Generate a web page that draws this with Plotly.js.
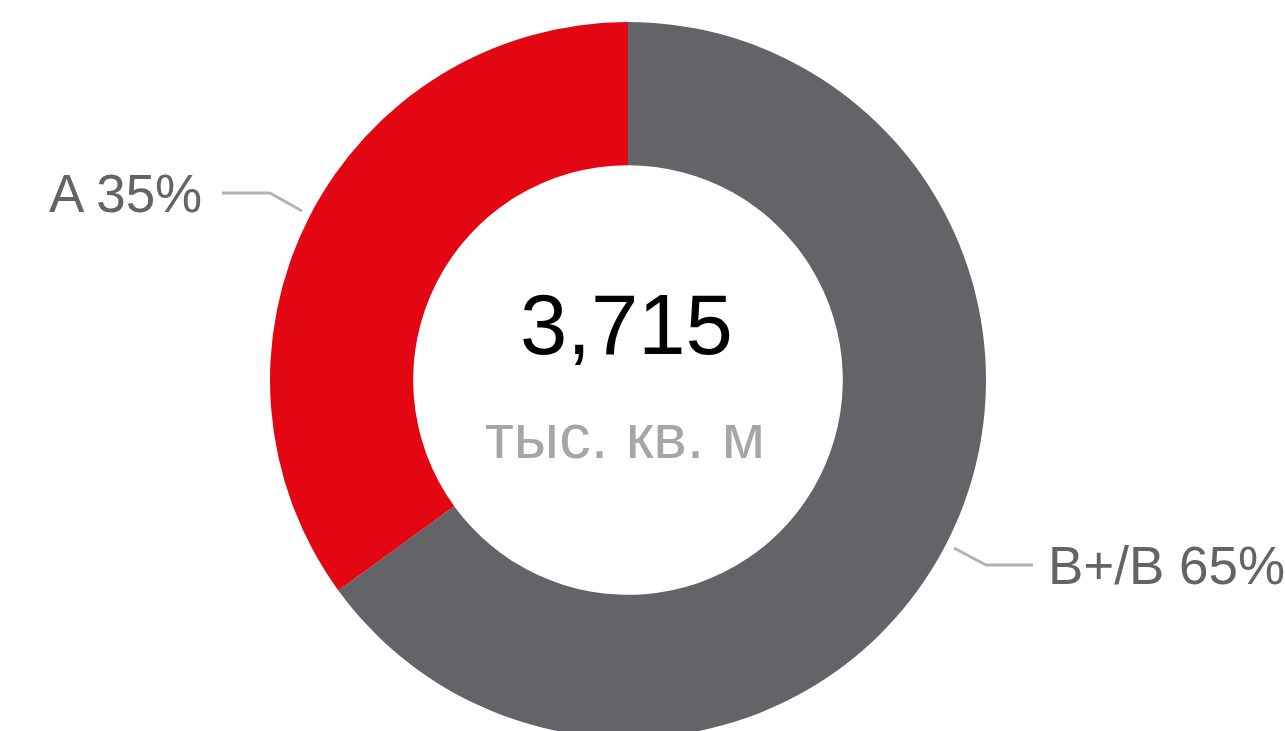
<!DOCTYPE html>
<html>
<head>
<meta charset="utf-8">
<script src="https://cdn.plot.ly/plotly-3.0.1.min.js"></script>
<style>
html,body{margin:0;padding:0;overflow:hidden;background:#fff;}
#chart{width:1285px;height:745px;}
</style>
</head>
<body>
<div id="chart"></div>
<script>
const categories = ["B+/B", "A"];
const values = [65, 35];
const colors = ["#636467", "#E30613"];
const totalLabel = "3,715";
const unitLabel = "тыс. кв. м";

const W = 1285, H = 745;
const px = x => x / W;
const py = y => 1 - y / H;
const FONT = "Liberation Sans, Arial, sans-serif";

const trace = {
  type: "pie",
  labels: categories,
  values: values,
  hole: 0.6,
  sort: false,
  direction: "clockwise",
  rotation: 0,
  textinfo: "none",
  hoverinfo: "label+percent",
  marker: {colors: colors, line: {width: 0}},
  domain: {x: [270 / W, 986 / W], y: [7 / H, 723 / H]},
  showlegend: false
};

const lineStyle = {color: "#b3b3b3", width: 3};
const layout = {
  width: W, height: H,
  margin: {l: 0, r: 0, t: 0, b: 0},
  paper_bgcolor: "#ffffff",
  showlegend: false,
  font: {family: FONT},
  annotations: [
    {text: totalLabel, x: px(626), y: py(325), xref: "paper", yref: "paper",
     showarrow: false, xanchor: "center", yanchor: "middle",
     font: {family: FONT, size: 85, color: "#000000"}},
    {text: unitLabel, x: px(625), y: py(436), xref: "paper", yref: "paper",
     showarrow: false, xanchor: "center", yanchor: "middle",
     font: {family: FONT, size: 63, color: "#a6a6a6"}},
    {text: categories[1] + " " + values[1] + "%", x: px(204), y: py(193), xref: "paper", yref: "paper",
     showarrow: false, xanchor: "right", yanchor: "middle",
     font: {family: FONT, size: 53, color: "#636467"}},
    {text: categories[0] + " " + values[0] + "%", x: px(1046), y: py(565), xref: "paper", yref: "paper",
     showarrow: false, xanchor: "left", yanchor: "middle",
     font: {family: FONT, size: 53, color: "#636467"}}
  ],
  shapes: [
    {type: "path", xref: "paper", yref: "paper",
     path: "M " + px(222) + " " + py(193) + " L " + px(270) + " " + py(193) + " L " + px(302) + " " + py(211),
     line: lineStyle},
    {type: "path", xref: "paper", yref: "paper",
     path: "M " + px(954) + " " + py(548) + " L " + px(986) + " " + py(565) + " L " + px(1033) + " " + py(565),
     line: lineStyle}
  ]
};

Plotly.newPlot("chart", [trace], layout, {displayModeBar: false, staticPlot: true});
</script>
</body>
</html>
